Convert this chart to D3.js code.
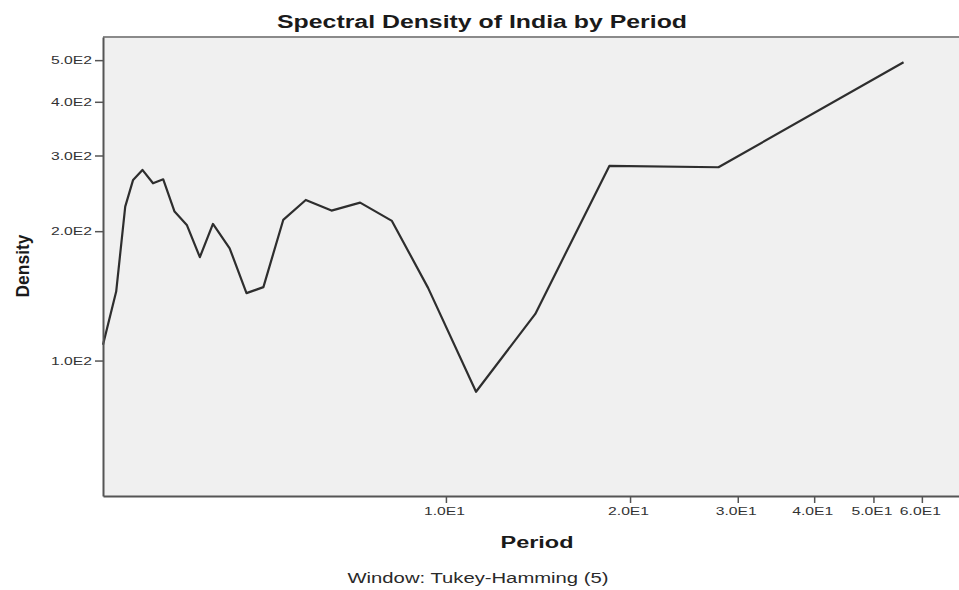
<!DOCTYPE html>
<html>
<head>
<meta charset="utf-8">
<script src="https://cdn.jsdelivr.net/npm/d3@7"></script>
<style>
  html, body { margin: 0; padding: 0; background: #ffffff; }
  svg { display: block; font-family: "Liberation Sans", Arial, sans-serif; }
</style>
</head>
<body>
<svg id="chart" width="959" height="590"></svg>
<script>
// ---- Data ----
const periods = [2.75, 2.89, 2.99, 3.08, 3.19, 3.32, 3.45, 3.60, 3.77, 3.96, 4.16, 4.43, 4.72, 5.03, 5.42, 5.90, 6.50, 7.24, 8.16, 9.35, 11.2, 14.0, 18.5, 27.9, 56.0];
const density = [108.8, 144.7, 228.1, 263.2, 277.7, 258.5, 264.1, 222.1, 206.8, 174.0, 207.9, 182.5, 143.5, 148.2, 212.4, 236.4, 223.3, 233.0, 211.3, 147.6, 84.6, 128.4, 283.7, 281.7, 494.6];
const xTicks = [10, 20, 30, 40, 50, 60];
const xTickLabels = ["1.0E1", "2.0E1", "3.0E1", "4.0E1", "5.0E1", "6.0E1"];
const yTicks = [100, 200, 300, 400, 500];
const yTickLabels = ["1.0E2", "2.0E2", "3.0E2", "4.0E2", "5.0E2"];
const titleText = "Spectral Density of India by Period";
const xTitle = "Period";
const yTitle = "Density";
const footnote = "Window: Tukey-Hamming (5)";

// ---- Layout ----
const svg = d3.select("#chart");
const plot = { left: 103, right: 959, top: 37, bottom: 496 };

const x = d3.scaleLog().domain([2.75, 69]).range([plot.left, plot.right]);
const y = d3.scaleLog().domain([48.4, 566]).range([plot.bottom, plot.top]);

// plot background
svg.append("rect")
  .attr("x", plot.left).attr("y", plot.top)
  .attr("width", plot.right - plot.left).attr("height", plot.bottom - plot.top)
  .attr("fill", "#f0f0f0");

// top border
svg.append("line")
  .attr("x1", plot.left).attr("x2", plot.right)
  .attr("y1", plot.top).attr("y2", plot.top)
  .attr("stroke", "#8a8a8a").attr("stroke-width", 2);

// line
const line = d3.line().x((d, i) => x(periods[i])).y((d, i) => y(density[i]));
svg.append("path")
  .datum(density)
  .attr("d", line)
  .attr("fill", "none")
  .attr("stroke", "#2e2e2e")
  .attr("stroke-width", 2.2)
  .attr("stroke-linejoin", "round");

// axes
const yAxis = d3.axisLeft(y).tickValues(yTicks)
  .tickFormat((d, i) => yTickLabels[i]).tickSizeInner(8).tickSizeOuter(0).tickPadding(3);
const gy = svg.append("g").attr("transform", `translate(${plot.left},0)`).call(yAxis);

const xAxis = d3.axisBottom(x).tickValues(xTicks)
  .tickFormat((d, i) => xTickLabels[i]).tickSizeInner(7).tickSizeOuter(0).tickPadding(4);
const gx = svg.append("g").attr("transform", `translate(0,${plot.bottom})`).call(xAxis);

[gx, gy].forEach(g => {
  g.select(".domain").attr("stroke", "#555").attr("stroke-width", 2);
  g.selectAll(".tick line").attr("stroke", "#555").attr("stroke-width", 1.5);
  g.selectAll(".tick text")
    .attr("fill", "#333")
    .style("font-size", "11px")
    .style("font-family", "'Liberation Sans', Arial, sans-serif")
    .attr("textLength", 41)
    .attr("lengthAdjust", "spacingAndGlyphs");
});
gx.selectAll(".tick text").attr("dx", -2);

// title
svg.append("text")
  .attr("x", 482).attr("y", 28)
  .attr("text-anchor", "middle")
  .style("font-size", "18px").style("font-weight", "bold")
  .attr("fill", "#1a1a1a")
  .attr("textLength", 410).attr("lengthAdjust", "spacingAndGlyphs")
  .text(titleText);

// x title
svg.append("text")
  .attr("x", 537).attr("y", 548)
  .attr("text-anchor", "middle")
  .style("font-size", "16px").style("font-weight", "bold")
  .attr("fill", "#1a1a1a")
  .attr("textLength", 73).attr("lengthAdjust", "spacingAndGlyphs")
  .text(xTitle);

// y title
svg.append("text")
  .attr("transform", "translate(29,266) rotate(-90)")
  .attr("text-anchor", "middle")
  .style("font-size", "18px").style("font-weight", "bold")
  .attr("fill", "#1a1a1a")
  .attr("textLength", 63).attr("lengthAdjust", "spacingAndGlyphs")
  .text(yTitle);

// footnote
svg.append("text")
  .attr("x", 478).attr("y", 583)
  .attr("text-anchor", "middle")
  .style("font-size", "14px")
  .attr("fill", "#2a2a2a")
  .attr("textLength", 261).attr("lengthAdjust", "spacingAndGlyphs")
  .text(footnote);
</script>
</body>
</html>
